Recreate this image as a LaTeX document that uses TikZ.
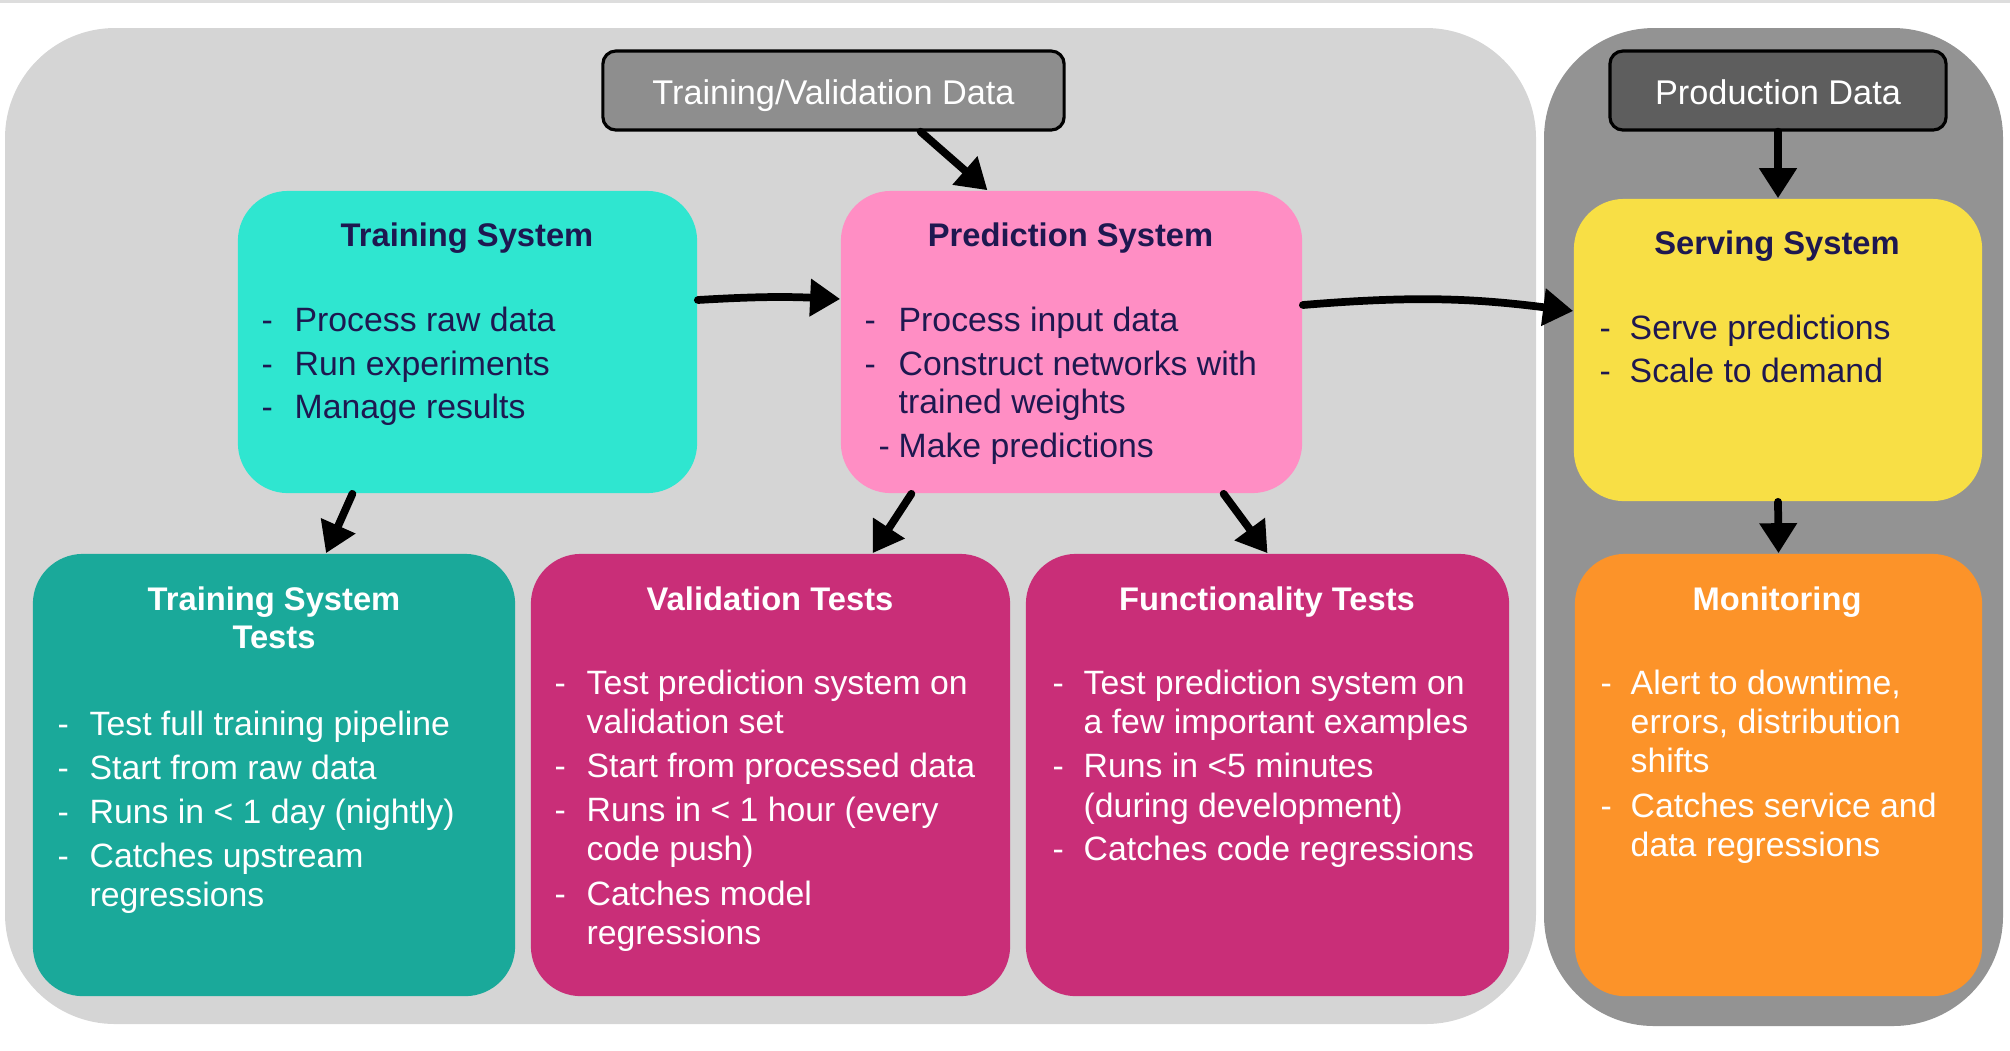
\documentclass[tikz,border=0pt]{standalone}
\usepackage{fontspec}
\setmainfont{Liberation Sans}
\usetikzlibrary{arrows.meta}

\definecolor{panellight}{HTML}{D5D5D5}
\definecolor{paneldark}{HTML}{939393}
\definecolor{tvgray}{HTML}{8E8E8E}
\definecolor{prodgray}{HTML}{5E5E5E}
\definecolor{trainc}{HTML}{2FE6D0}
\definecolor{predc}{HTML}{FF8EC4}
\definecolor{servc}{HTML}{F8DF45}
\definecolor{testc}{HTML}{1AA99A}
\definecolor{valc}{HTML}{C92E78}
\definecolor{monc}{HTML}{FC9329}
\definecolor{navy}{HTML}{1E1850}

\begin{document}
\begin{tikzpicture}[x=0.01cm, y=-0.01cm,
  card/.style={rounded corners=0.5cm, inner sep=0pt},
  databox/.style={draw=black, line width=0.9pt, rounded corners=0.13cm, inner sep=0pt, text=white, text height=10pt, text depth=2pt, font=\fontsize{9.75}{11}\selectfont},
  ttl/.style={anchor=base, inner sep=0pt, font=\fontsize{9.3}{11}\selectfont\bfseries},
  txt/.style={anchor=base west, inner sep=0pt, font=\fontsize{9.6}{11}\selectfont},
  arr/.style={line width=2.2pt, -{Triangle[length=0.3cm,width=0.36cm]}, line cap=round}]
\useasboundingbox (0,0) rectangle (2010,1050);
\fill[panellight!80!white] (0,0) rectangle (2010,3);
%panels
\fill[panellight, rounded corners=1.1cm] (5,28) rectangle (1536,1024);
\fill[paneldark, rounded corners=1.1cm] (1544,28) rectangle (2003,1026);
%data sources
\node[databox, fill=tvgray, minimum width=4.61cm, minimum height=0.79cm] (tvdata) at (833.5,90.5) {Training/Validation Data};
\node[databox, fill=prodgray, minimum width=3.36cm, minimum height=0.79cm] (prod) at (1778,90.5) {Production Data};
%training system
\node[card, fill=trainc, minimum width=4.59cm, minimum height=3.02cm] (train) at (467.5,342) {};
\node[ttl, text=navy] (train-t) at (467,246) {Training System};
\node[txt, text=navy] (train-d1) at (261,331) {-};
\node[txt, text=navy] (train-1) at (294,331) {Process raw data};
\node[txt, text=navy] (train-d2) at (261,375) {-};
\node[txt, text=navy] (train-2) at (294,375) {Run experiments};
\node[txt, text=navy] (train-d3) at (261,418) {-};
\node[txt, text=navy] (train-3) at (294,418) {Manage results};
%prediction system
\node[card, fill=predc, minimum width=4.61cm, minimum height=3.02cm] (pred) at (1071.5,342) {};
\node[ttl, text=navy] (pred-t) at (1070.5,246) {Prediction System};
\node[txt, text=navy] (pred-d1) at (864,331) {-};
\node[txt, text=navy] (pred-1) at (898,331) {Process input data};
\node[txt, text=navy] (pred-d2) at (864,375) {-};
\node[txt, text=navy] (pred-2) at (898,375) {Construct networks with};
\node[txt, text=navy] (pred-2b) at (898,413) {trained weights};
\node[txt, text=navy] (pred-d3) at (878,457) {-};
\node[txt, text=navy] (pred-3) at (898,457) {Make predictions};
%serving system
\node[card, fill=servc, minimum width=4.08cm, minimum height=3.02cm] (serv) at (1778,350) {};
\node[ttl, text=navy] (serv-t) at (1777,254) {Serving System};
\node[txt, text=navy] (serv-d1) at (1599,339) {-};
\node[txt, text=navy] (serv-1) at (1629,339) {Serve predictions};
\node[txt, text=navy] (serv-d2) at (1599,382) {-};
\node[txt, text=navy] (serv-2) at (1629,382) {Scale to demand};
%training system tests
\node[card, fill=testc, minimum width=4.82cm, minimum height=4.42cm] (tst) at (274,775) {};
\node[ttl, text=white] (tst-t) at (274,610) {Training System};
\node[ttl, text=white] (tst-tb) at (274,648) {Tests};
\node[txt, text=white] (tst-d1) at (57,735) {-};
\node[txt, text=white] (tst-1) at (89,735) {Test full training pipeline};
\node[txt, text=white] (tst-d2) at (57,779) {-};
\node[txt, text=white] (tst-2) at (89,779) {Start from raw data};
\node[txt, text=white] (tst-d3) at (57,823) {-};
\node[txt, text=white] (tst-3) at (89,823) {Runs in < 1 day (nightly)};
\node[txt, text=white] (tst-d4) at (57,867) {-};
\node[txt, text=white] (tst-4) at (89,867) {Catches upstream};
\node[txt, text=white] (tst-4b) at (89,906) {regressions};
%validation tests
\node[card, fill=valc, minimum width=4.79cm, minimum height=4.42cm] (val) at (770.5,775) {};
\node[ttl, text=white] (val-t) at (770,610) {Validation Tests};
\node[txt, text=white] (val-d1) at (554,694) {-};
\node[txt, text=white] (val-1) at (586,694) {Test prediction system on};
\node[txt, text=white] (val-1b) at (586,733) {validation set};
\node[txt, text=white] (val-d2) at (554,777) {-};
\node[txt, text=white] (val-2) at (586,777) {Start from processed data};
\node[txt, text=white] (val-d3) at (554,821) {-};
\node[txt, text=white] (val-3) at (586,821) {Runs in < 1 hour (every};
\node[txt, text=white] (val-3b) at (586,860) {code push)};
\node[txt, text=white] (val-d4) at (554,905) {-};
\node[txt, text=white] (val-4) at (586,905) {Catches model};
\node[txt, text=white] (val-4b) at (586,944) {regressions};
%functionality tests
\node[card, fill=valc, minimum width=4.83cm, minimum height=4.42cm] (func) at (1267.5,775) {};
\node[ttl, text=white] (func-t) at (1267,610) {Functionality Tests};
\node[txt, text=white] (func-d1) at (1052,694) {-};
\node[txt, text=white] (func-1) at (1083,694) {Test prediction system on};
\node[txt, text=white] (func-1b) at (1083,733) {a few important examples};
\node[txt, text=white] (func-d2) at (1052,777) {-};
\node[txt, text=white] (func-2) at (1083,777) {Runs in <5 minutes};
\node[txt, text=white] (func-2b) at (1083,817) {(during development)};
\node[txt, text=white] (func-d3) at (1052,860) {-};
\node[txt, text=white] (func-3) at (1083,860) {Catches code regressions};
%monitoring
\node[card, fill=monc, minimum width=4.07cm, minimum height=4.42cm] (mon) at (1778.5,775) {};
\node[ttl, text=white] (mon-t) at (1777,610) {Monitoring};
\node[txt, text=white] (mon-d1) at (1600,694) {-};
\node[txt, text=white] (mon-1) at (1630,694) {Alert to downtime,};
\node[txt, text=white] (mon-1b) at (1630,733) {errors, distribution};
\node[txt, text=white] (mon-1c) at (1630,772) {shifts};
\node[txt, text=white] (mon-d2) at (1600,817) {-};
\node[txt, text=white] (mon-2) at (1630,817) {Catches service and};
\node[txt, text=white] (mon-2b) at (1630,856) {data regressions};
%arrows
\draw[arr] ([xshift=0.87cm]tvdata.south) -- ([xshift=-0.84cm]pred.north);
\draw[arr] ([yshift=0.42cm]train.east) to[bend left=3] ([yshift=0.43cm]pred.west);
\draw[arr] ([yshift=0.37cm]pred.east) to[bend left=6] ([yshift=0.39cm]serv.west);
\draw[arr] (prod.south) -- (serv.north);
\draw[arr] ([xshift=-1.15cm]train.south) -- ([xshift=0.52cm]tst.north);
\draw[arr] ([xshift=-1.6cm]pred.south) -- ([xshift=1.02cm]val.north);
\draw[arr] ([xshift=1.52cm]pred.south) -- (func.north);
\draw[arr] (serv.south) -- (mon.north);
\end{tikzpicture}
\end{document}
